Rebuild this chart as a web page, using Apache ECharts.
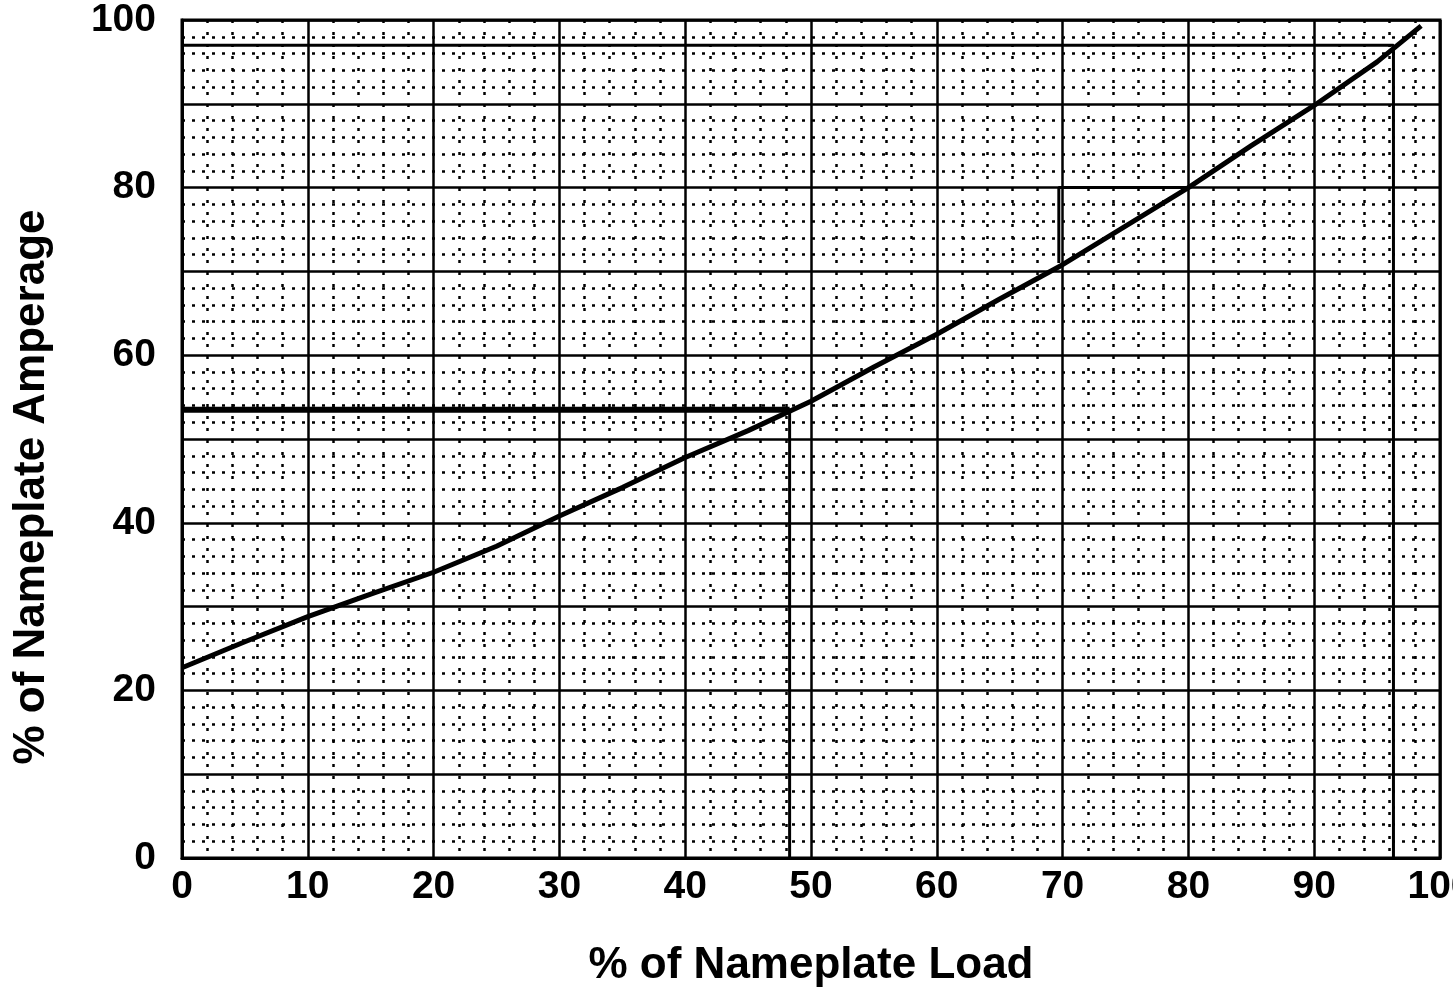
<!DOCTYPE html>
<html>
<head>
<meta charset="utf-8">
<script src="https://cdn.jsdelivr.net/npm/echarts@6/dist/echarts.min.js"></script>
<style>
  html, body { margin: 0; padding: 0; background: #fff; }
  #chart { width: 1453px; height: 990px; }
</style>
</head>
<body>
<div id="chart"></div>
<script>
// load vs amperage curve
const loadPct = [0, 5, 10, 15, 20, 25, 30, 35, 40, 45, 50, 55, 60, 65, 70, 75, 80, 85, 90, 95, 98.5];
const ampPct = [22.7, 25.8, 28.8, 31.5, 34.1, 37.2, 40.8, 44.2, 47.8, 51.0, 54.5, 58.6, 62.5, 66.7, 70.8, 75.4, 80.0, 85.0, 89.8, 95.0, 99.3];

// reading guides drawn on the sheet
const guide1X = [0, 48.3, 48.3];
const guide1Y = [53.5, 53.5, 0];
const guide2X = [0, 96.3, 96.3];
const guide2Y = [97, 97, 0];
const guide3X = [80, 69.7, 69.7];
const guide3Y = [80, 80, 71];

const xTickLabels = [0, 10, 20, 30, 40, 50, 60, 70, 80, 90, 100];
const yTickLabels = [0, 20, 40, 60, 80, 100];

const zip = (xs, ys) => xs.map((x, i) => [x, ys[i]]);

const chart = echarts.init(document.getElementById("chart"));

const labelFont = {
  color: "#000",
  fontFamily: "Liberation Sans, Arial, sans-serif",
  fontWeight: "bold",
  fontSize: 39,
};

const options = {
  backgroundColor: "#fff",
  animation: false,
  grid: {
    left: 182,
    right: 13,
    top: 20,
    bottom: 132,
    outerBoundsMode: "none",
    containLabel: false,
    show: true,
    borderColor: "#000",
    borderWidth: 3,
  },
  xAxis: {
    type: "value",
    min: 0,
    max: 100,
    interval: 10,
    name: "% of Nameplate Load",
    nameLocation: "middle",
    nameGap: 86,
    nameTextStyle: { ...labelFont, fontSize: 44 },
    axisLine: { show: true, lineStyle: { color: "#000", width: 3 } },
    axisTick: { show: false },
    axisLabel: {
      ...labelFont,
      margin: 10,
      formatter: (v) => (xTickLabels.includes(v) ? String(v) : ""),
    },
    splitLine: { show: true, lineStyle: { color: "#000", width: 2.5 } },
    minorTick: { show: false, splitNumber: 5 },
    minorSplitLine: { show: true, lineStyle: { color: "#000", width: 2.5, type: [3, 9] } },
  },
  yAxis: {
    type: "value",
    min: 0,
    max: 100,
    interval: 10,
    name: "% of Nameplate Amperage",
    nameLocation: "middle",
    nameGap: 128,
    nameTextStyle: { ...labelFont, fontSize: 44, padding: [0, 96, 0, 0] },
    axisLine: { show: true, lineStyle: { color: "#000", width: 3 } },
    axisTick: { show: false },
    axisLabel: {
      ...labelFont,
      margin: 26,
      formatter: (v) => (yTickLabels.includes(v) ? String(v) : ""),
    },
    splitLine: { show: true, lineStyle: { color: "#000", width: 2.5 } },
    minorTick: { show: false, splitNumber: 5 },
    minorSplitLine: { show: true, lineStyle: { color: "#000", width: 2.5, type: [3, 7] } },
  },
  series: [
    {
      type: "line",
      data: zip(guide1X, guide1Y),
      symbol: "none",
      lineStyle: { color: "#000", width: 3 },
      z: 3,
    },
    {
      type: "line",
      data: zip(guide1X.slice(0, 2), guide1Y.slice(0, 2)),
      symbol: "none",
      lineStyle: { color: "#000", width: 6 },
      z: 3,
    },
    {
      type: "line",
      data: zip(guide2X, guide2Y),
      symbol: "none",
      lineStyle: { color: "#000", width: 3 },
      z: 3,
    },
    {
      type: "line",
      data: zip(guide3X, guide3Y),
      symbol: "none",
      lineStyle: { color: "#000", width: 3 },
      z: 3,
    },
    {
      type: "line",
      data: zip(loadPct, ampPct),
      symbol: "none",
      lineStyle: { color: "#000", width: 5 },
      z: 4,
    },
  ],
};

chart.setOption(options);
</script>
</body>
</html>
